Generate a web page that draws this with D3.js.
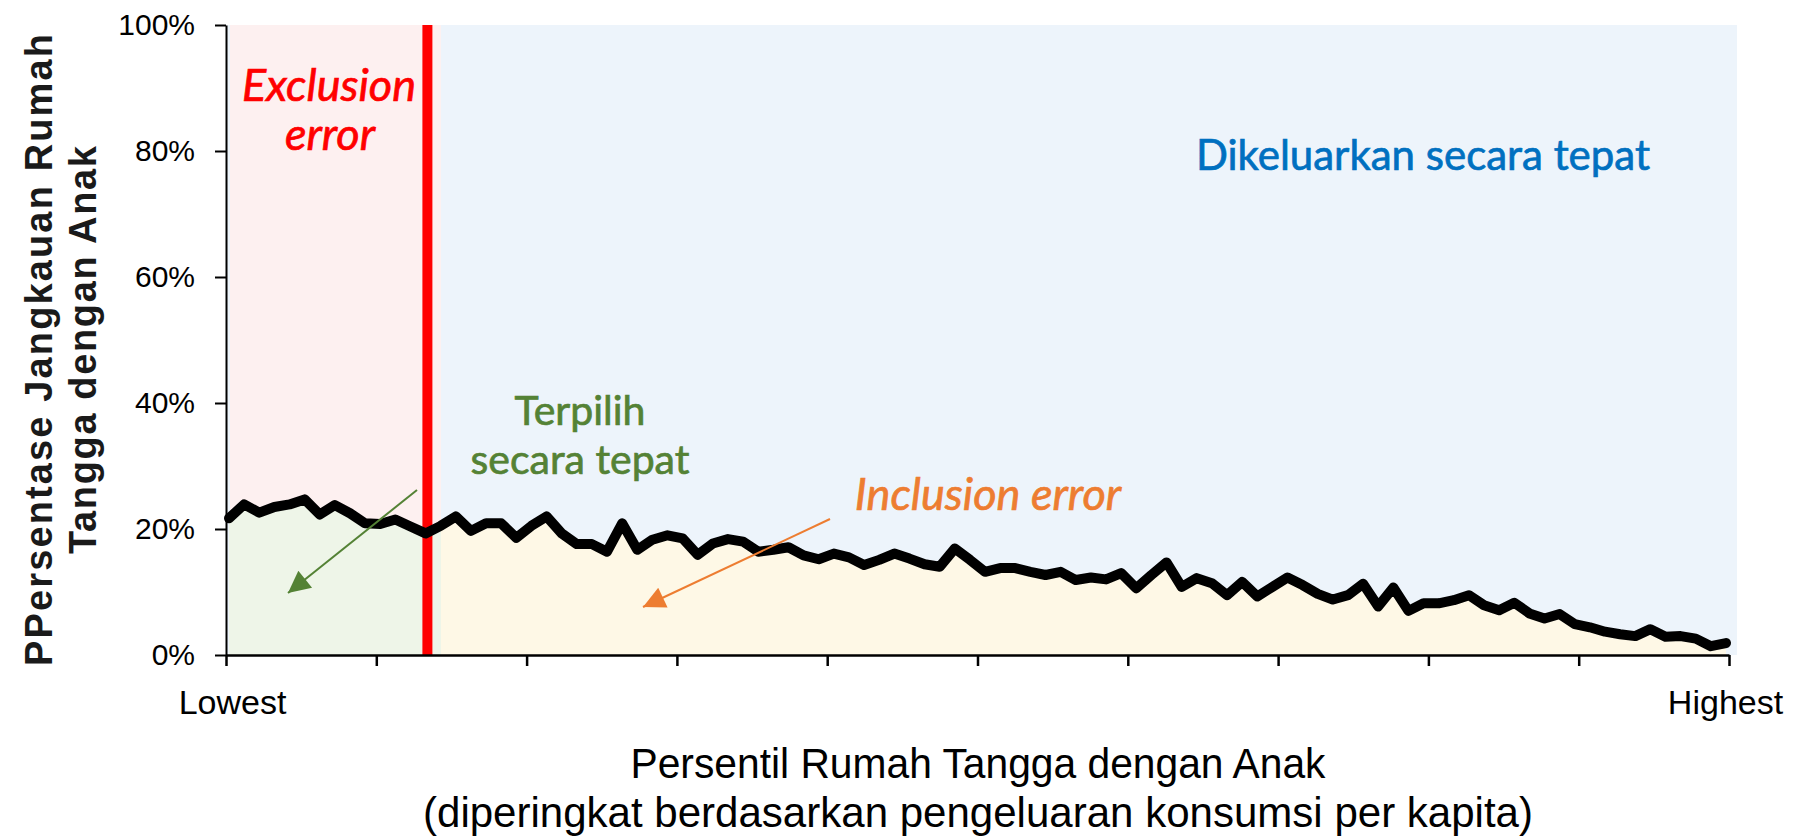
<!DOCTYPE html>
<html>
<head>
<meta charset="utf-8">
<script src="https://cdn.jsdelivr.net/npm/d3@7"></script>
<style>
  html, body { margin: 0; padding: 0; background: #ffffff; }
  svg { display: block; }
</style>
</head>
<body>
<svg id="chart" width="1801" height="839"></svg>
<script>
// ---------------- DATA ----------------
const coverage = [
  21.7, 23.9, 22.6, 23.5, 23.9, 24.7, 22.3, 23.8, 22.5, 20.9,
  20.8, 21.5, 20.4, 19.3, 20.5, 22.0, 19.7, 20.9, 20.9, 18.6,
  20.5, 22.0, 19.3, 17.6, 17.6, 16.4, 20.9, 16.7, 18.3, 19.0,
  18.5, 15.9, 17.7, 18.4, 18.0, 16.4, 16.7, 17.1, 15.8, 15.2,
  16.1, 15.5, 14.3, 15.1, 16.1, 15.3, 14.4, 14.0, 16.9, 15.1,
  13.2, 13.8, 13.8, 13.2, 12.7, 13.2, 11.9, 12.3, 12.0, 13.0,
  10.6, 12.7, 14.7, 10.8, 12.2, 11.4, 9.5, 11.6, 9.3, 10.8,
  12.3, 11.1, 9.7, 8.8, 9.5, 11.3, 7.7, 10.7, 7.0, 8.2,
  8.2, 8.7, 9.5, 7.9, 7.1, 8.3, 6.6, 5.8, 6.5, 4.9,
  4.4, 3.7, 3.3, 3.0, 4.1, 2.9, 3.0, 2.6, 1.4, 1.9
];
const percentiles = coverage.map((_, i) => i + 1);
const yTicks = [0, 0.2, 0.4, 0.6, 0.8, 1.0];
const xTicks = [0, 10, 20, 30, 40, 50, 60, 70, 80, 90, 100];
const xTickLabels = { 0: "Lowest", 100: "Highest" };
const cutoffPercentile = 13.4;   // targeting cut-off (red line)
const yTitleLines = ["PPersentase Jangkauan Rumah", "Tangga dengan Anak"];
const xTitleLines = ["Persentil Rumah Tangga dengan Anak",
                     "(diperingkat berdasarkan pengeluaran konsumsi per kapita)"];

// ---------------- SCALES ----------------
const svg = d3.select("#chart");
const pL = 226, pR = 1729, pT = 25, pB = 655;
const x = d3.scaleLinear().domain([0, 100]).range([pL, pR]);
const xData = d3.scaleLinear().domain([1, 100]).range([x(0.2), x(99.8)]);
const y = d3.scaleLinear().domain([0, 1]).range([pB, pT]);
const splitX = x(14.3);

// ---------------- BACKGROUND REGIONS ----------------
svg.append("rect").attr("x", pL).attr("y", pT)
  .attr("width", pR + 8 - pL).attr("height", pB - pT)
  .attr("fill", "#edf4fb");
svg.append("rect").attr("x", pL + 4).attr("y", pT)
  .attr("width", splitX - pL - 4).attr("height", pB - pT)
  .attr("fill", "#fdf0f0");

const defs = svg.append("defs");
defs.append("clipPath").attr("id", "clipL").append("rect")
  .attr("x", pL).attr("y", pT).attr("width", splitX - pL).attr("height", pB - pT);
defs.append("clipPath").attr("id", "clipR").append("rect")
  .attr("x", splitX).attr("y", pT).attr("width", pR + 10 - splitX).attr("height", pB - pT);

const pts = percentiles.map((p, i) => ({ p, v: coverage[i] / 100 }));
const area = d3.area().x(d => xData(d.p)).y0(y(0)).y1(d => y(d.v));
svg.append("path").datum(pts).attr("d", area).attr("fill", "#eef5e8").attr("clip-path", "url(#clipL)");
svg.append("path").datum(pts).attr("d", area).attr("fill", "#fef8e6").attr("clip-path", "url(#clipR)");

// ---------------- CUT-OFF LINE ----------------
svg.append("line")
  .attr("x1", x(cutoffPercentile)).attr("x2", x(cutoffPercentile))
  .attr("y1", y(1)).attr("y2", y(0))
  .attr("stroke", "#ff0000").attr("stroke-width", 10);

// ---------------- DATA LINE ----------------
const line = d3.line().x(d => xData(d.p)).y(d => y(d.v));
svg.append("path").datum(pts).attr("d", line)
  .attr("fill", "none").attr("stroke", "#000").attr("stroke-width", 10)
  .attr("stroke-linejoin", "round").attr("stroke-linecap", "round");

// ---------------- AXES ----------------
const yAxis = d3.axisLeft(y).tickValues(yTicks).tickFormat(d3.format(".0%"))
  .tickSize(11).tickPadding(20).tickSizeOuter(0);
const gy = svg.append("g").attr("transform", `translate(${pL},0)`).call(yAxis);
gy.select(".domain").attr("stroke", "#000").attr("stroke-width", 2);
gy.selectAll(".tick line").attr("stroke", "#000").attr("stroke-width", 2);
gy.selectAll(".tick text").attr("fill", "#000")
  .style("font-family", "'Liberation Sans', Arial, sans-serif").style("font-size", "30px");

const xAxis = d3.axisBottom(x).tickValues(xTicks)
  .tickFormat(d => xTickLabels[d] || "").tickSize(11).tickPadding(24).tickSizeOuter(0);
const gx = svg.append("g").attr("transform", `translate(0,${pB})`).call(xAxis);
gx.select(".domain").attr("stroke", "#000").attr("stroke-width", 2.5);
gx.selectAll(".tick line").attr("stroke", "#000").attr("stroke-width", 2.5);
gx.selectAll(".tick text").attr("fill", "#000")
  .attr("dx", d => d === 0 ? 6 : (d === 100 ? -4 : 0))
  .style("font-family", "'Liberation Sans', Arial, sans-serif").style("font-size", "34px");

// ---------------- AXIS TITLES ----------------
const yTitleBase = [52, 96];
const yTitleLen = [632, 408];
yTitleLines.forEach((t, i) => {
  svg.append("text")
    .attr("transform", `translate(${yTitleBase[i]},350) rotate(-90)`)
    .attr("text-anchor", "middle")
    .attr("textLength", yTitleLen[i]).attr("lengthAdjust", "spacing")
    .style("font-family", "'Liberation Sans', Arial, sans-serif")
    .style("font-weight", "bold").style("font-size", "38px").attr("fill", "#1a1a1a")
    .text(t);
});

const xTitleBase = [778, 827];
const xTitleLen = [695, 1110];
xTitleLines.forEach((t, i) => {
  svg.append("text")
    .attr("x", 978).attr("y", xTitleBase[i]).attr("text-anchor", "middle")
    .attr("textLength", xTitleLen[i]).attr("lengthAdjust", "spacingAndGlyphs")
    .style("font-family", "'Liberation Sans', Arial, sans-serif")
    .style("font-size", "42px").attr("fill", "#000")
    .text(t);
});

// ---------------- ANNOTATIONS ----------------
const annFont = "Lato, 'Open Sans', sans-serif";
function ann(txt, cx, by, color, size, italic) {
  svg.append("text").attr("x", cx).attr("y", by).attr("text-anchor", "middle")
    .style("font-family", annFont).style("font-size", size + "px")
    .style("font-style", italic ? "italic" : "normal")
    .attr("fill", color).attr("stroke", color).attr("stroke-width", 0.7)
    .text(txt);
}
ann("Exclusion", 329, 101, "#ff0000", 45, true);
ann("error", 330, 150, "#ff0000", 45, true);
ann("Dikeluarkan secara tepat", 1423, 170, "#0070c0", 42, false);
ann("Terpilih", 580, 425, "#548235", 41, false);
ann("secara tepat", 580, 474, "#548235", 41, false);
ann("Inclusion error", 988, 510, "#ed7d31", 45, true);

// arrows
function arrow(id, color, x1, y1, x2, y2) {
  defs.append("marker").attr("id", id)
    .attr("viewBox", "0 0 10 10").attr("refX", 10).attr("refY", 5)
    .attr("markerUnits", "userSpaceOnUse").attr("markerWidth", 26).attr("markerHeight", 22)
    .attr("orient", "auto")
    .append("path").attr("d", "M0,0 L10,5 L0,10 Z").attr("fill", color);
  svg.append("line").attr("x1", x1).attr("y1", y1).attr("x2", x2).attr("y2", y2)
    .attr("stroke", color).attr("stroke-width", 2)
    .attr("marker-end", `url(#${id})`);
}
arrow("arrG", "#548235", 417, 490, 288, 593);
arrow("arrO", "#ed7d31", 830, 519, 643, 607);
</script>
</body>
</html>
